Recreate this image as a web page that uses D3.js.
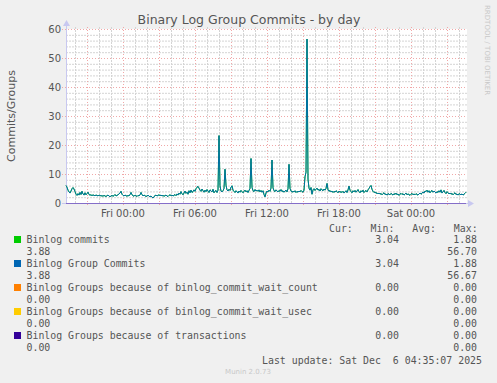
<!DOCTYPE html>
<html>
<head>
<meta charset="utf-8">
<script src="https://cdn.jsdelivr.net/npm/d3@7"></script>
<style>
  body { margin: 0; background: #f0f0f0; }
  svg { display: block; }
</style>
</head>
<body>
<div id="chart"></div>
<script>
// serie cada 5 minutos, desde jue 19:15 hasta sab 04:35
var startTime = new Date(2025, 11, 4, 19, 15);
var stepMinutes = 5;

var binlogCommits = [
  6.2,5.6,4.6,4.0,3.6,4.3,5.1,5.5,5.0,4.1,3.2,2.8,
  3.4,2.9,3.8,3.1,4.2,3.3,2.9,3.7,3.0,3.4,3.9,3.1,
  2.9,3.0,2.7,3.0,2.8,2.7,2.9,2.8,2.6,2.9,2.8,2.6,
  2.7,2.5,2.8,2.6,2.4,2.7,2.9,2.6,2.3,2.6,2.8,2.5,
  2.7,3.1,2.6,2.8,3.0,3.3,3.6,4.2,3.2,2.8,2.6,2.9,
  2.7,2.5,2.8,2.6,3.1,3.8,3.0,2.7,2.5,2.9,2.7,2.4,
  2.8,2.6,3.0,3.8,3.1,2.6,2.9,2.7,2.4,2.6,2.9,2.5,
  2.3,2.6,2.2,1.88,2.4,2.7,2.9,2.6,2.8,3.0,2.7,2.9,
  2.6,2.8,2.5,2.7,2.9,2.6,2.4,2.8,3.0,2.7,2.9,2.6,
  2.8,3.1,2.7,3.3,2.9,3.6,3.2,4.1,3.4,3.0,3.6,4.3,
  3.5,3.9,3.2,4.4,3.7,4.6,3.8,4.1,4.7,4.2,5.1,5.6,
  5.9,5.3,4.6,4.2,5.0,4.4,3.9,4.6,4.1,4.8,4.3,3.8,
  4.7,4.4,4.0,4.9,3.7,4.2,4.5,3.8,4.6,23.4,6.1,4.3,
  4.0,4.4,5.2,11.8,6.3,4.7,4.3,4.9,4.5,5.6,6.1,4.6,
  4.2,3.8,4.4,4.0,3.6,4.3,3.9,4.5,4.1,3.7,4.2,4.6,
  4.0,4.4,3.8,4.5,5.2,15.5,5.6,4.4,4.1,4.8,4.3,4.6,
  4.2,4.7,4.0,4.5,3.9,4.4,3.1,2.3,3.6,4.3,4.0,4.6,
  4.2,5.3,15.0,5.4,4.4,4.1,4.7,4.3,4.0,4.5,4.2,4.8,
  4.1,4.4,3.9,4.3,4.6,4.0,5.1,13.5,5.2,4.3,3.9,4.2,
  4.0,4.4,3.8,4.2,3.9,4.3,4.0,4.5,4.1,3.9,4.6,9.2,
  10.8,56.7,8.4,5.3,4.6,5.5,3.2,4.7,5.1,4.5,4.9,5.3,
  4.6,4.9,4.3,5.1,4.7,4.4,5.0,4.6,5.2,6.9,4.8,4.2,
  4.5,4.0,4.3,3.8,4.2,3.9,4.4,4.1,3.7,4.3,3.9,4.1,
  3.8,4.2,3.6,4.0,4.4,3.8,4.7,6.0,4.6,4.1,3.7,4.4,
  4.0,4.5,3.9,4.3,4.8,4.1,3.7,4.4,4.0,4.6,3.8,4.2,
  4.5,4.0,4.7,5.2,5.8,6.2,4.9,4.2,3.8,4.0,3.5,3.7,
  3.3,3.6,3.2,3.5,3.0,3.4,3.7,3.1,3.3,2.9,3.4,3.2,
  3.0,3.5,3.2,2.9,3.4,3.1,3.6,3.0,3.3,2.8,3.2,3.5,
  3.1,3.4,2.9,3.2,3.6,3.0,3.3,3.1,2.8,3.2,3.5,3.0,
  3.3,3.0,3.4,3.1,2.9,3.3,3.6,3.2,3.5,4.0,3.6,4.3,
  4.1,4.6,3.9,4.4,3.7,4.2,4.5,3.9,4.3,4.0,3.6,4.1,
  3.8,4.4,3.9,4.7,3.6,4.0,4.5,3.8,3.4,4.1,3.7,3.3,
  3.6,3.2,3.5,3.0,3.4,3.7,3.1,3.3,2.9,3.4,3.2,3.0,
  3.3,2.9,3.2,3.5,3.88
];
// group commits: igual salvo el pico
var groupCommits = binlogCommits.slice();
groupCommits[241] = 56.67;
var waitCount = binlogCommits.map(function() { return 0; });
var waitUsec = binlogCommits.map(function() { return 0; });
var transactions = binlogCommits.map(function() { return 0; });

var seriesNames = ["Binlog commits", "Binlog Group Commits",
  "Binlog Groups because of binlog_commit_wait_count",
  "Binlog Groups because of binlog_commit_wait_usec",
  "Binlog Groups because of transactions"];
var seriesColors = ["#00cc00", "#0066b3", "#ff8000", "#ffcc00", "#330099"];
var legendLine1 = [["3.04", "1.88"], ["3.04", "1.88"], ["0.00", "0.00"], ["0.00", "0.00"], ["0.00", "0.00"]];
var legendLine2 = [["3.88", "56.70"], ["3.88", "56.67"], ["0.00", "0.00"], ["0.00", "0.00"], ["0.00", "0.00"]];
var yTicks = [0, 10, 20, 30, 40, 50, 60];

var allSeries = [binlogCommits, groupCommits, waitCount, waitUsec, transactions];

var W = 497, H = 383;
var svg = d3.select("#chart").append("svg")
  .attr("width", W).attr("height", H)
  .style("font-family", "'DejaVu Sans', sans-serif");

svg.append("rect").attr("width", W).attr("height", H).attr("fill", "#f0f0f0");

var timeOf = function(i) { return new Date(startTime.getTime() + i * stepMinutes * 60000); };
var endTime = timeOf(binlogCommits.length - 1);

var x = d3.scaleTime().domain([startTime, endTime]).range([66, 466]);
var y = d3.scaleLinear().domain([0, 60]).range([203, 29]);

// fondo blanco del area
svg.append("rect").attr("x", 66).attr("y", 29).attr("width", 401).attr("height", 174).attr("fill", "#ffffff");

// rejilla menor
var grid = svg.append("g");
d3.range(0, 61, 2).forEach(function(v) {
  if (v % 10 === 0) return;
  grid.append("line").attr("x1", 66).attr("x2", 467).attr("y1", y(v) + 0.5).attr("y2", y(v) + 0.5)
    .attr("stroke", "#d4d4d4").attr("stroke-dasharray", "2,1");
});
x.ticks(d3.timeHour.every(1)).forEach(function(t) {
  if (t.getHours() % 3 === 0) return;
  var px = Math.round(x(t)) + 0.5;
  grid.append("line").attr("x1", px).attr("x2", px).attr("y1", 27).attr("y2", 203)
    .attr("stroke", "#d4d4d4").attr("stroke-dasharray", "2,1");
});
// rejilla mayor
yTicks.forEach(function(v) {
  grid.append("line").attr("x1", 62).attr("x2", 467).attr("y1", y(v) + 0.5).attr("y2", y(v) + 0.5)
    .attr("stroke", "#f0a8a8").attr("stroke-dasharray", "1,2");
});
x.ticks(d3.timeHour.every(3)).forEach(function(t) {
  var px = Math.round(x(t)) + 0.5;
  grid.append("line").attr("x1", px).attr("x2", px).attr("y1", 27).attr("y2", 207)
    .attr("stroke", "#f0a8a8").attr("stroke-dasharray", "1,2");
});

// lineas
var line = d3.line()
  .x(function(d, i) { return x(timeOf(i)); })
  .y(function(d) { return y(d) + 0.5; });

// series a cero (quedan bajo el eje)
[2, 3].forEach(function(k) {
  svg.append("path").datum(allSeries[k])
    .attr("fill", "none").attr("stroke", seriesColors[k]).attr("stroke-width", 1)
    .attr("d", line);
});

// ejes
var axisCol = "#c8c8f0";
svg.append("line").attr("x1", 66.5).attr("x2", 66.5).attr("y1", 204).attr("y2", 24).attr("stroke", axisCol);
svg.append("path").attr("d", "M63,26 L70,26 L66.5,20 Z").attr("fill", axisCol);
svg.append("line").attr("x1", 62).attr("x2", 470).attr("y1", 203.5).attr("y2", 203.5).attr("stroke", axisCol);
svg.append("path").attr("d", "M468,200 L468,207 L474,203.5 Z").attr("fill", axisCol);

[0, 1, 4].forEach(function(k) {
  svg.append("path").datum(allSeries[k])
    .attr("fill", "none")
    .attr("stroke", seriesColors[k])
    .attr("stroke-width", 1)
    .attr("stroke-opacity", k === 1 ? 0.9 : (k === 4 ? 0.45 : 1))
    .attr("d", line);
});

// etiquetas y
svg.append("g").selectAll("text").data(yTicks).join("text")
  .attr("x", 61).attr("y", function(d) { return y(d) + 4; })
  .attr("text-anchor", "end").attr("font-size", "10px").attr("fill", "#555")
  .text(function(d) { return d; });

// etiquetas x
var fmt = d3.timeFormat("%a %H:%M");
svg.append("g").selectAll("text").data(x.ticks(d3.timeHour.every(6))).join("text")
  .attr("x", function(d) { return x(d); }).attr("y", 216.5)
  .attr("text-anchor", "middle").attr("font-size", "10px").attr("fill", "#555")
  .text(function(d) { return fmt(d); });

// titulos
svg.append("text").attr("x", 249).attr("y", 24).attr("text-anchor", "middle")
  .attr("font-size", "12.5px").attr("fill", "#555").text("Binary Log Group Commits - by day");
svg.append("text").attr("transform", "translate(15,116) rotate(-90)").attr("text-anchor", "middle")
  .attr("font-size", "11px").attr("fill", "#555").text("Commits/Groups");
svg.append("text").attr("transform", "translate(485,5) rotate(90)").attr("text-anchor", "start")
  .attr("font-size", "7px").attr("fill", "#c8c8c8").text("RRDTOOL / TOBI OETIKER");

// leyenda
var mono = "'DejaVu Sans Mono', monospace";
var leg = svg.append("g").style("font-family", mono).attr("font-size", "9.9px").attr("fill", "#555");
leg.append("text").attr("x", 329).attr("y", 231.5).attr("xml:space", "preserve")
  .text("Cur:   Min:   Avg:   Max:");

seriesNames.forEach(function(name, k) {
  var cy = 239.5 + k * 24;
  leg.append("rect").attr("x", 14).attr("y", cy - 3.5).attr("width", 7).attr("height", 7).attr("fill", seriesColors[k]);
  leg.append("text").attr("x", 26.5).attr("y", cy + 3.5).text(name);
  leg.append("text").attr("x", 399).attr("y", cy + 3.5).attr("text-anchor", "end").text(legendLine1[k][0]);
  leg.append("text").attr("x", 477).attr("y", cy + 3.5).attr("text-anchor", "end").text(legendLine1[k][1]);
  leg.append("text").attr("x", 26.5).attr("y", cy + 15.5).text(legendLine2[k][0]);
  leg.append("text").attr("x", 477).attr("y", cy + 15.5).attr("text-anchor", "end").text(legendLine2[k][1]);
});

leg.append("text").attr("x", 482).attr("y", 363.5).attr("text-anchor", "end").attr("xml:space", "preserve")
  .text("Last update: Sat Dec  6 04:35:07 2025");

svg.append("text").attr("x", 248).attr("y", 374).attr("text-anchor", "middle")
  .attr("font-size", "7px").attr("fill", "#c8c8c8").text("Munin 2.0.73");
</script>
</body>
</html>
